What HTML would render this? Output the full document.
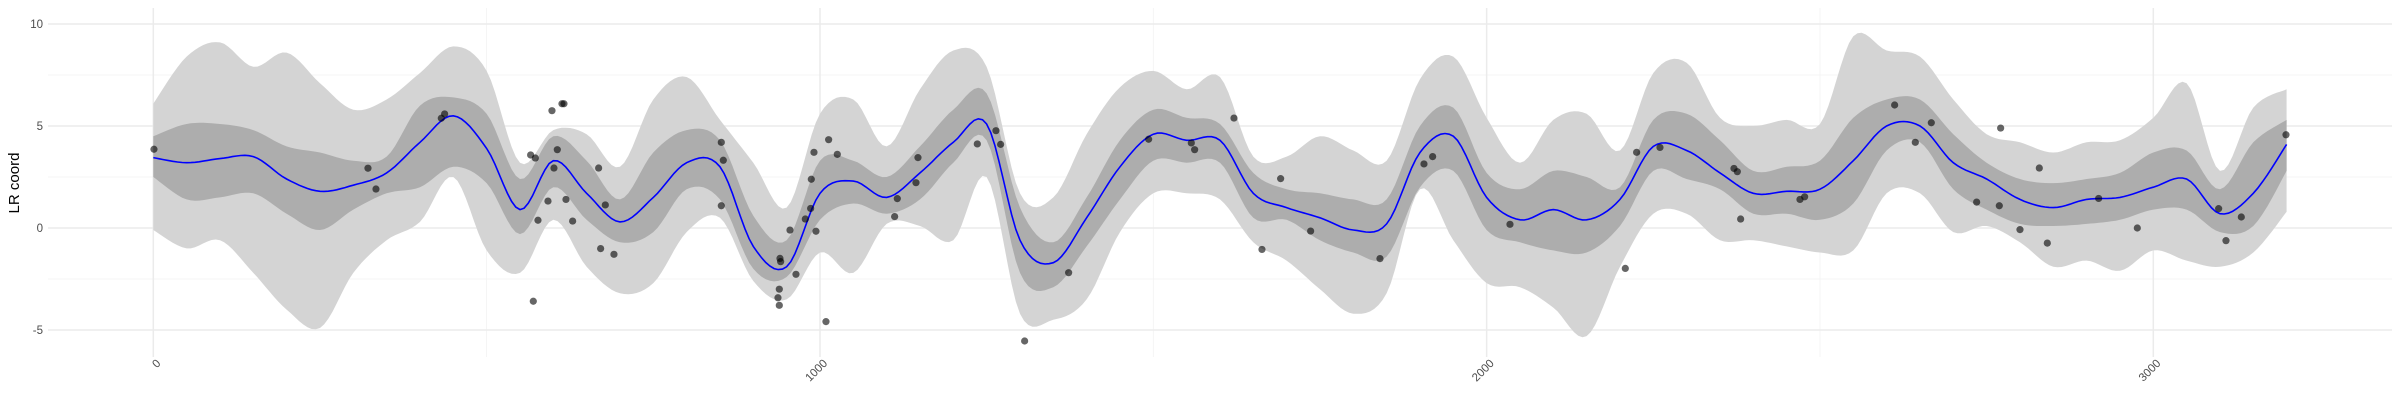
<!DOCTYPE html>
<html><head><meta charset="utf-8">
<style>
html,body{margin:0;padding:0;background:#fff;}
svg{display:block;font-family:"Liberation Sans",sans-serif;}
</style></head>
<body>
<svg id="chart" width="2400" height="400" viewBox="0 0 2400 400">
  <g id="grid"></g>
  <path id="outer" fill="#d4d4d4"/>
  <path id="inner" fill="#adadad"/>
  <path id="meanline" fill="none" stroke="#0000ff" stroke-width="1.6"/>
  <g id="pts"></g>
  <g id="yticks"></g>
  <g id="xticks"></g>
  <text x="0" y="0" transform="translate(19,183) rotate(-90)" text-anchor="middle" font-size="15" fill="#000">LR coord</text>
</svg>
<script>
const xs = [0,50,100,150,200,250,300,350,400,450,500,550,600,650,700,750,800,850,900,950,1000,1050,1100,1150,1200,1250,1300,1350,1400,1450,1500,1550,1600,1650,1700,1750,1800,1850,1900,1950,2000,2050,2100,2150,2200,2250,2300,2350,2400,2450,2500,2550,2600,2650,2700,2750,2800,2850,2900,2950,3000,3050,3100,3150,3200];
const meanVals = [3.45,3.2,3.4,3.5,2.4,1.8,2.1,2.7,4.2,5.5,3.9,0.9,3.3,1.7,0.3,1.5,3.2,3.0,-0.9,-1.9,1.7,2.3,1.5,2.7,4.2,5.1,-0.6,-1.7,0.5,3.0,4.6,4.3,4.3,1.7,1.0,0.5,-0.1,0.2,3.7,4.5,1.5,0.4,0.9,0.4,1.4,4.0,3.8,2.7,1.7,1.8,1.9,3.3,5.0,5.0,3.2,2.4,1.4,1.0,1.4,1.5,2.0,2.4,0.7,1.7,4.1];
const innerHi = [4.5,5.1,5.1,4.8,4.0,3.7,3.3,3.5,6.0,6.4,5.6,2.4,4.5,3.3,1.4,3.7,4.8,4.3,0.6,-0.6,3.3,3.3,2.5,4.0,5.8,6.6,1.0,-0.7,1.5,4.3,5.8,5.4,5.1,2.7,1.9,1.7,1.4,1.4,5.0,5.9,2.7,1.9,2.8,2.5,2.0,5.3,5.6,4.3,2.8,3.0,3.3,5.4,6.3,6.3,4.6,3.2,2.4,2.2,2.4,2.7,3.7,3.8,1.9,4.2,5.3];
const innerLo = [2.5,1.4,1.5,1.7,0.7,-0.1,0.9,1.7,2.0,3.0,2.2,-0.3,2.0,0.4,-0.7,-0.2,1.9,1.4,-2.0,-2.4,0.4,1.2,0.7,1.4,3.2,4.3,-2.2,-2.9,-0.9,1.4,3.3,3.2,3.2,0.5,0.4,-0.6,-1.2,-1.4,2.0,2.8,-0.1,-0.7,-1.1,-1.2,0.1,2.8,2.4,1.9,0.7,0.7,0.4,1.2,3.8,4.2,1.9,0.9,0.2,0.1,0.2,0.4,0.9,0.9,-0.2,0.1,2.8];
const outerHi = [6.1,8.4,9.1,7.9,8.6,7.1,5.8,6.3,7.6,8.9,7.7,3.2,4.8,4.6,3.0,6.3,7.4,5.3,3.2,1.0,5.6,6.3,4.0,6.8,8.7,7.9,1.7,1.5,4.6,6.9,7.7,6.8,7.4,3.5,3.5,4.5,3.8,3.3,7.3,8.4,5.4,3.2,5.3,5.6,3.8,7.6,8.1,5.4,5.0,5.3,5.1,9.4,8.7,8.4,6.3,4.6,4.2,3.7,4.2,4.3,5.4,7.1,2.8,5.9,6.8];
const outerLo = [-0.1,-1.0,-0.6,-2.2,-4.0,-4.9,-2.2,-0.6,0.3,2.5,-1.1,-2.2,0.4,-1.9,-3.2,-2.7,-0.2,0.5,-2.6,-3.5,-1.2,-2.2,0.2,0.1,-0.6,2.5,-4.2,-4.5,-3.5,-0.2,1.7,1.7,1.4,-0.7,-1.6,-3.0,-4.2,-3.2,1.9,-0.6,-2.7,-2.9,-3.9,-5.3,-1.9,0.7,0.7,-0.6,-0.6,-0.9,-1.2,-1.1,1.7,1.7,-0.2,0.1,-0.7,-1.9,-1.6,-2.1,-1.1,-1.6,-1.9,-1.2,0.8];
const pointX = [1,322,334,432,437,598,613,616,566,573,606,601,592,619,577,629,570,668,678,671,691,852,855,852,940,941,939,937,939,955,964,978,986,987,991,994,1013,1026,1009,1112,1116,1144,1147,1236,1264,1271,1307,1373,1493,1557,1562,1621,1663,1691,1736,1840,1906,1919,2035,2208,2225,2260,2371,2376,2381,2470,2477,2612,2667,2643,2771,2735,2769,2800,2829,2841,2918,2976,3098,3109,3132,3199];
const pointY = [3.86,2.93,1.91,5.38,5.59,5.75,6.09,6.09,3.58,3.43,3.84,2.94,1.32,1.4,0.38,0.34,-3.59,2.94,1.13,-1.01,-1.29,4.2,3.32,1.09,-1.49,-1.65,-3.0,-3.42,-3.79,-0.1,-2.27,0.44,0.96,2.39,3.71,-0.16,4.33,3.61,-4.59,0.56,1.44,2.22,3.45,4.12,4.77,4.1,-5.54,-2.19,4.35,4.17,3.84,5.39,-1.05,2.42,-0.15,-1.5,3.14,3.5,0.18,-1.98,3.71,3.95,2.92,2.76,0.44,1.4,1.53,6.03,5.16,4.2,4.9,1.27,1.09,-0.08,2.94,-0.74,1.45,0.0,0.95,-0.62,0.54,4.57];
const yTickVals = [-5,0,5,10];
const yMinorVals = [-2.5,2.5,7.5];
const xTickVals = [0,1000,2000,3000];
const xMinorVals = [500,1500,2500];

const X = u => 153.3 + u*0.66667;
const Y = v => 228 - v*20.4;
const NS = "http://www.w3.org/2000/svg";
const PL = 48, PR = 2392, PT = 8, PB = 357;

function smooth(pts){
  let out=[];
  for(let i=0;i<pts.length-1;i++){
    const p0=pts[Math.max(0,i-1)],p1=pts[i],p2=pts[i+1],p3=pts[Math.min(pts.length-1,i+2)];
    for(let k=0;k<8;k++){
      const t=k/8,t2=t*t,t3=t2*t;
      const f=(a,b,c,d)=>0.5*((2*b)+(-a+c)*t+(2*a-5*b+4*c-d)*t2+(-a+3*b-3*c+d)*t3);
      out.push([f(p0[0],p1[0],p2[0],p3[0]),f(p0[1],p1[1],p2[1],p3[1])]);
    }
  }
  out.push(pts[pts.length-1]);
  return out;
}
function series(vals){ return smooth(xs.map((u,i)=>[X(u),Y(vals[i])])); }
function toPath(a){ return a.map((p,i)=>(i?'L':'M')+p[0].toFixed(1)+','+p[1].toFixed(1)).join(''); }
function band(hi,lo){ return toPath(series(hi).concat(series(lo).reverse()))+'Z'; }

const grid=document.getElementById('grid');
function line(x1,y1,x2,y2,w,c,name){
  const l=document.createElementNS(NS,'line');
  l.setAttribute('x1',x1);l.setAttribute('y1',y1);l.setAttribute('x2',x2);l.setAttribute('y2',y2);
  l.setAttribute('stroke',c);l.setAttribute('stroke-width',w);
  
  
  grid.appendChild(l);
}
yMinorVals.forEach(v=>line(PL,Y(v),PR,Y(v),0.8,'#f2f2f2','y-minor-gridline'));
xMinorVals.forEach(u=>line(X(u),PT,X(u),PB,0.8,'#f2f2f2','x-minor-gridline'));
yTickVals.forEach(v=>line(PL,Y(v),PR,Y(v),1.5,'#ebebeb','y-major-gridline'));
xTickVals.forEach(u=>line(X(u),PT,X(u),PB,1.5,'#ebebeb','x-major-gridline'));

document.getElementById('outer').setAttribute('d',band(outerHi,outerLo));
document.getElementById('inner').setAttribute('d',band(innerHi,innerLo));
document.getElementById('meanline').setAttribute('d',toPath(series(meanVals)));

const pg=document.getElementById('pts');
pointX.forEach((u,i)=>{
  const c=document.createElementNS(NS,'circle');
  c.setAttribute('cx',X(u));c.setAttribute('cy',Y(pointY[i]));c.setAttribute('r',3.6);
  c.setAttribute('fill','#000');c.setAttribute('fill-opacity','0.6');
  
  
  pg.appendChild(c);
});

const yt=document.getElementById('yticks');
yTickVals.forEach(v=>{
  const t=document.createElementNS(NS,'text');
  t.setAttribute('x',43);t.setAttribute('y',Y(v)+4);t.setAttribute('text-anchor','end');
  t.setAttribute('font-size','11.5');t.setAttribute('fill','#4d4d4d');
  t.textContent=v;
  
  
  yt.appendChild(t);
});
const xt=document.getElementById('xticks');
xTickVals.forEach(u=>{
  const t=document.createElementNS(NS,'text');
  const x0=X(u)+8, y0=364;
  t.setAttribute('x',0);t.setAttribute('y',0);
  t.setAttribute('transform','translate('+x0+','+y0+') rotate(-45)');
  t.setAttribute('text-anchor','end');
  t.setAttribute('font-size','11.5');t.setAttribute('fill','#4d4d4d');
  t.textContent=u;
  
  
  xt.appendChild(t);
});
</script>
</body></html>
